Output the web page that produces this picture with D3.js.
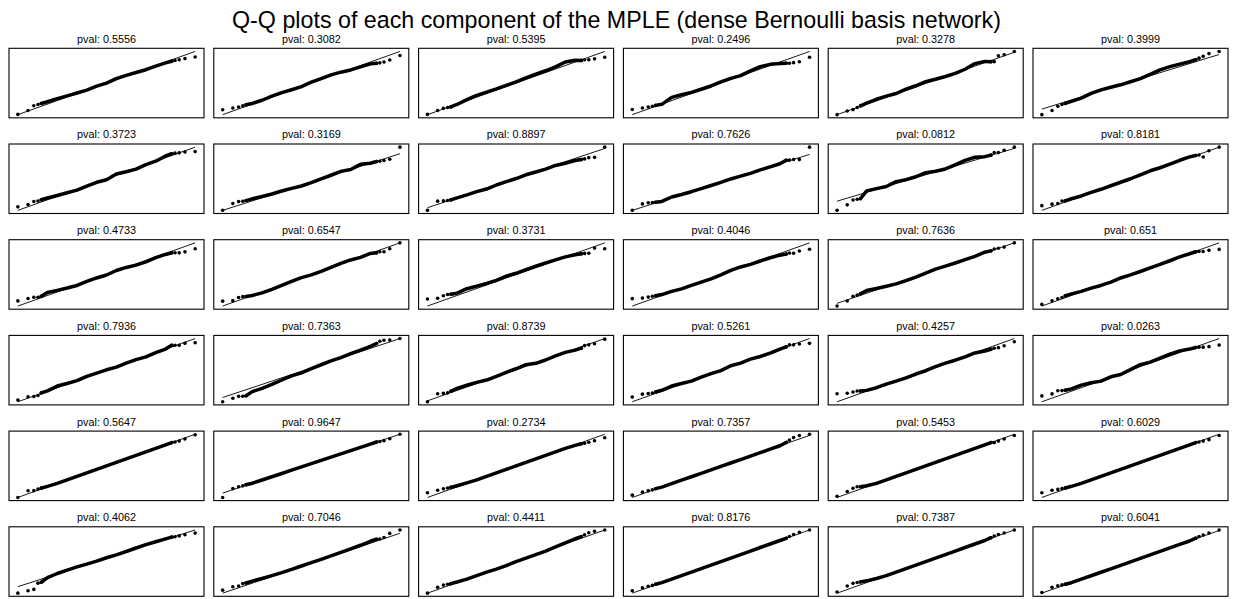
<!DOCTYPE html>
<html>
<head>
<meta charset="utf-8">
<script src="https://cdn.jsdelivr.net/npm/d3@7"></script>
<style>
  html, body { margin: 0; padding: 0; background: #fff; }
  svg { display: block; font-family: "Liberation Sans", Arial, sans-serif; }
</style>
</head>
<body>
<svg id="chart" width="1233" height="599"></svg>
<script>
// Theoretical normal quantiles (n = 200): five extreme order statistics at each end,
// the dense middle sampled every 0.3.
const theoQ = [-2.701, -2.391, -2.215, -2.088, -1.988,
  -1.8, -1.5, -1.2, -0.9, -0.6, -0.3, 0, 0.3, 0.6, 0.9, 1.2, 1.5, 1.8,
  1.988, 2.088, 2.215, 2.391, 2.701];

// p-values of the normality test, one per MPLE component
const pvals = [
  "0.5556", "0.3082", "0.5395", "0.2496", "0.3278", "0.3999",
  "0.3723", "0.3169", "0.8897", "0.7626", "0.0812", "0.8181",
  "0.4733", "0.6547", "0.3731", "0.4046", "0.7636", "0.651",
  "0.7936", "0.7363", "0.8739", "0.5261", "0.4257", "0.0263",
  "0.5647", "0.9647", "0.2734", "0.7357", "0.5453", "0.6029",
  "0.4062", "0.7046", "0.4411", "0.8176", "0.7387", "0.6041"
];

// Standardised sample quantiles, stored as residuals from the fitted
// reference line (sample = theoretical + residual), one array per component.
const residRow1 = [
  [0.02, 0.05, 0.28, 0.26, 0.24, 0.2, 0.17, 0.1, 0.05, 0, 0.03, 0, 0.08, 0.06, 0, -0.06, -0.05, -0.08, -0.12, -0.16, -0.22, -0.3, -0.47],
  [0.42, 0.26, 0.17, 0.14, 0.13, 0.05, 0.03, 0.08, 0.08, 0.03, 0, 0.08, 0.08, 0.1, 0.03, -0.08, -0.12, -0.16, -0.3, -0.36, -0.42, -0.42, -0.35],
  [0.02, 0.05, 0.05, 0, -0.05, -0.03, 0.08, 0.15, 0.13, 0.1, 0.1, 0.1, 0.15, 0.16, 0.15, 0.18, 0.3, 0.15, -0.05, -0.1, -0.22, -0.32, -0.5],
  [0.44, 0.26, 0.17, 0.1, 0.08, -0.02, 0.28, 0.2, 0.1, 0.07, 0.05, 0.1, 0.1, 0.03, 0.14, 0.2, 0.1, -0.12, -0.29, -0.39, -0.47, -0.57, -0.49],
  [0, 0, -0.05, 0, 0.05, 0.1, 0.13, 0.1, 0.03, 0.1, 0.1, 0.15, 0.07, 0, -0.03, 0.03, 0.22, 0.11, -0.1, -0.2, 0.19, 0.1, 0.07],
  [-0.55, -0.45, -0.2, -0.16, -0.15, -0.13, -0.12, 0.05, 0.1, 0.06, 0, 0, 0.02, 0.13, 0.28, 0.3, 0.25, 0.2, 0.2, 0.25, 0.3, 0.4, 0.3]
];
const residRow2 = [
  [0.3, 0.19, 0.27, 0.19, 0.19, 0.15, 0.07, 0, -0.07, -0.04, 0, -0.08, 0.1, 0, -0.08, 0, 0, 0.15, 0.15, 0.1, 0, -0.1, -0.38],
  [0, 0.34, 0.35, 0.25, 0.22, 0.2, 0.12, 0.06, 0.05, 0, -0.08, -0.06, 0, 0.05, 0.12, 0, 0.19, 0, -0.03, -0.1, -0.16, -0.22, 0.63],
  [-0.24, 0.29, 0.14, 0.05, 0, 0, -0.03, -0.03, -0.1, -0.03, -0.03, -0.04, 0, -0.04, -0.08, -0.05, -0.15, -0.2, -0.3, -0.34, -0.35, -0.5, 0.12],
  [0, 0.31, 0.25, 0.14, 0.06, -0.04, 0.09, 0.03, 0, 0, 0, 0, 0.03, 0, -0.03, 0, 0, 0, 0.15, 0.06, 0, -0.19, 0.7],
  [-0.94, -0.69, -0.37, -0.42, -0.45, 0.15, 0.08, 0, 0.2, 0.1, 0.1, 0.22, 0.06, 0, 0.11, 0.27, 0.3, 0.06, 0.03, 0.2, 0.06, 0.13, 0.13],
  [0.4, 0.22, 0.1, 0.18, 0.1, 0.09, 0.03, 0.04, 0, 0, 0, 0, 0.04, 0.08, 0.04, 0.05, 0.08, 0.07, 0, -0.06, -0.35, 0, 0]
];
const residRow3 = [
  [0.44, 0.34, 0.26, 0.14, 0.12, 0.25, 0.14, 0.04, -0.04, 0, 0, -0.05, 0.04, 0, -0.1, -0.13, -0.06, -0.09, -0.14, -0.23, -0.37, -0.46, -0.5],
  [0.42, 0.15, 0.25, 0.19, 0.1, 0, -0.08, -0.07, -0.03, 0, 0.03, -0.04, -0.04, 0, 0.05, 0.04, -0.04, 0, -0.14, -0.15, -0.28, -0.2, 0],
  [0.6, 0.36, 0.4, 0.38, 0.3, 0.2, 0.28, 0.2, 0.13, 0.1, 0.15, 0.1, 0.1, 0.1, 0.08, 0.05, 0, -0.12, -0.22, -0.29, -0.4, -0.14, -0.5],
  [0.63, 0.37, 0.28, 0.22, 0.17, 0.08, 0.05, -0.03, -0.04, -0.05, -0.08, -0.04, 0.05, 0.04, -0.04, -0.05, -0.07, -0.15, -0.25, -0.26, -0.4, -0.38, -0.55],
  [-0.24, -0.1, 0.15, 0.12, 0.14, 0.24, 0.12, 0.03, -0.06, -0.07, -0.05, 0, 0.06, 0.03, 0, 0, 0, 0.07, 0, 0.07, 0, -0.07, 0],
  [0.14, 0.14, 0.14, 0.12, 0.16, 0.14, 0.05, 0.03, -0.04, -0.05, 0, -0.04, -0.05, -0.04, -0.04, -0.03, 0, -0.03, -0.05, -0.12, -0.25, -0.33, -0.56]
];
const residRow4 = [
  [0.14, 0.12, -0.04, -0.08, 0.04, 0.03, 0.14, 0.06, 0, 0.07, 0.05, 0.03, -0.04, 0, 0, -0.07, 0, 0, 0.14, 0.04, -0.08, -0.1, -0.36],
  [-0.39, -0.38, -0.38, -0.5, -0.55, -0.36, -0.36, -0.3, -0.2, -0.12, -0.15, -0.06, 0, 0.06, 0.06, 0.12, 0.15, 0.18, 0.26, 0.37, 0.33, 0.17, 0],
  [-0.08, 0.3, 0.16, 0.08, 0.12, 0.18, 0.15, 0.1, 0, 0.03, 0.07, 0.08, 0.13, -0.05, -0.06, 0, 0, -0.1, -0.12, 0, -0.06, -0.14, -0.05],
  [0.4, 0.34, 0.22, 0.13, 0.12, 0.08, 0.14, 0.06, -0.04, 0, 0, -0.04, 0.08, 0, 0.04, -0.03, -0.05, 0, 0, 0.07, -0.05, -0.16, -0.41],
  [0.68, 0.41, 0.35, 0.3, 0.2, 0.07, 0, 0, -0.04, -0.06, -0.03, -0.05, 0, 0, -0.05, -0.06, -0.03, -0.16, -0.2, -0.22, -0.29, -0.31, -0.27],
  [0.5, 0.36, 0.46, 0.34, 0.27, 0.2, 0.22, 0.12, -0.04, 0.03, -0.07, 0.05, 0.17, 0.09, 0.13, 0.16, 0.15, 0, -0.05, -0.12, -0.25, -0.38, -0.56]
];
const residRow5 = [
  [0, 0.26, 0.1, 0.1, 0.08, 0.05, 0, 0, 0, 0, 0, 0, 0, 0, 0, 0, 0, 0, 0, -0.05, -0.1, -0.1, -0.05],
  [-0.4, 0.1, 0.1, 0.05, 0.05, 0, 0, 0, 0, 0, 0, 0, 0, 0, 0, 0, 0, 0, 0, -0.05, -0.1, -0.1, 0],
  [0.4, 0.3, 0.25, 0.2, 0.15, 0.1, 0.05, 0, 0, 0, 0, 0, 0, 0, 0, 0, 0, -0.05, -0.1, -0.15, -0.2, -0.25, -0.3],
  [0.2, 0.15, 0.1, 0.05, 0.05, 0, 0, 0, 0, 0, 0, 0, 0, 0, 0, 0, 0, 0, 0.1, 0.2, 0.3, 0.3, 0.1],
  [0.1, 0.2, 0.3, 0.3, 0.2, 0.1, 0, 0, 0, 0, 0, 0, 0, 0, 0, 0, 0, 0, 0, -0.1, -0.1, -0.1, -0.1],
  [0.4, 0.3, 0.2, 0.15, 0.1, 0.05, 0, 0, 0, 0, 0, 0, 0, 0, 0, 0, 0, 0, 0, -0.05, -0.1, -0.15, -0.1]
];
const residRow6 = [
  [-0.62, -0.7, -0.75, -0.28, -0.3, -0.05, 0.05, 0.08, 0.08, 0.05, 0.03, 0.05, 0.03, 0.05, 0.08, 0.1, 0.08, 0.05, 0.03, -0.03, -0.08, -0.15, -0.3],
  [0.27, 0.27, 0.15, 0.25, 0.2, 0.18, 0.12, 0.08, 0.05, 0.05, 0.05, 0.05, 0.05, 0.06, 0.08, 0.1, 0.12, 0.18, 0.18, 0.1, 0.1, 0.3, 0.3],
  [0, 0.2, 0.2, 0.15, 0.1, 0.05, 0, 0, 0, -0.05, -0.05, 0, 0, 0, 0, 0.05, 0.1, 0.15, 0.15, 0.2, 0.25, 0.2, 0],
  [0.2, 0.15, 0.1, 0.05, 0.05, 0, 0, 0, 0, 0, 0, 0, 0, 0, 0, 0, 0, 0, 0, 0.05, 0.1, 0.1, 0],
  [0.1, 0.3, 0.35, 0.3, 0.25, 0.15, 0.05, 0, 0, 0, 0, 0, 0, 0, 0, 0, 0, 0, 0.05, 0.1, 0.1, 0.05, 0],
  [0.05, 0.2, 0.15, 0.1, 0.05, 0, 0, 0, 0, 0, 0, 0, 0, 0, 0, 0, 0, 0, 0.05, 0.1, 0.1, 0.1, 0.05]
];

const titleText = "Q-Q plots of each component of the MPLE (dense Bernoulli basis network)";

// ---- layout ----
const W = 1233, H = 599;
const nCols = 6;
const boxW = 195, boxH = 69.5;
const colLeft = c => 9 + c * 204.8;
const rowTop = r => 48.3 + r * 95.7;

const svg = d3.select("#chart");

const title = svg.append("text")
  .attr("x", W / 2).attr("y", 27.5)
  .attr("text-anchor", "middle")
  .attr("font-size", 21.5)
  .attr("fill", "#000")
  .text(titleText);
// fit the suptitle to its intended width
const tw = title.node().getComputedTextLength();
title.attr("font-size", 21.5 * 769 / tw);

const panels = [].concat(residRow1, residRow2, residRow3, residRow4, residRow5, residRow6);
const last = theoQ.length - 1;
const bodyStart = 4, bodyEnd = last - 4;

panels.forEach((res, k) => {
  const r = Math.floor(k / nCols), c = k % nCols;
  const x0 = colLeft(c), y0 = rowTop(r);
  const pts = theoQ.map((q, i) => ({ q, s: q + res[i], i }));

  // matplotlib-style autoscale: data + reference line, 5% margins
  const xLo = theoQ[0], xHi = theoQ[last];
  const xPad = (xHi - xLo) * 0.05;
  const yLo = Math.min(d3.min(pts, d => d.s), xLo);
  const yHi = Math.max(d3.max(pts, d => d.s), xHi);
  const yPad = (yHi - yLo) * 0.05;

  const x = d3.scaleLinear().domain([xLo - xPad, xHi + xPad]).range([x0, x0 + boxW]);
  const y = d3.scaleLinear().domain([yLo - yPad, yHi + yPad]).range([y0 + boxH, y0]);

  const g = svg.append("g");

  // fitted reference line
  g.append("line")
    .attr("x1", x(xLo)).attr("y1", y(xLo))
    .attr("x2", x(xHi)).attr("y2", y(xHi))
    .attr("stroke", "#000").attr("stroke-width", 0.9);

  // dense middle of the sample: overlapping markers form a band
  const band = d3.line().x(d => x(d.q)).y(d => y(d.s));
  g.append("path")
    .datum(pts.slice(bodyStart, bodyEnd + 1))
    .attr("d", band)
    .attr("fill", "none").attr("stroke", "#000")
    .attr("stroke-width", 3.5)
    .attr("stroke-linecap", "round").attr("stroke-linejoin", "round");

  // extreme order statistics drawn as individual markers
  g.selectAll("circle")
    .data(pts.filter(d => d.i <= bodyStart || d.i >= bodyEnd))
    .join("circle")
    .attr("cx", d => x(d.q)).attr("cy", d => y(d.s))
    .attr("r", 1.8).attr("fill", "#000");

  // axes frame (ticks hidden)
  g.append("rect")
    .attr("x", x0).attr("y", y0).attr("width", boxW).attr("height", boxH)
    .attr("fill", "none").attr("stroke", "#000").attr("stroke-width", 1.1);

  svg.append("text")
    .attr("x", x0 + boxW / 2).attr("y", y0 - 5.6)
    .attr("text-anchor", "middle")
    .attr("font-size", 10.8)
    .attr("fill", "#000")
    .text("pval: " + pvals[k]);
});
</script>
</body>
</html>
